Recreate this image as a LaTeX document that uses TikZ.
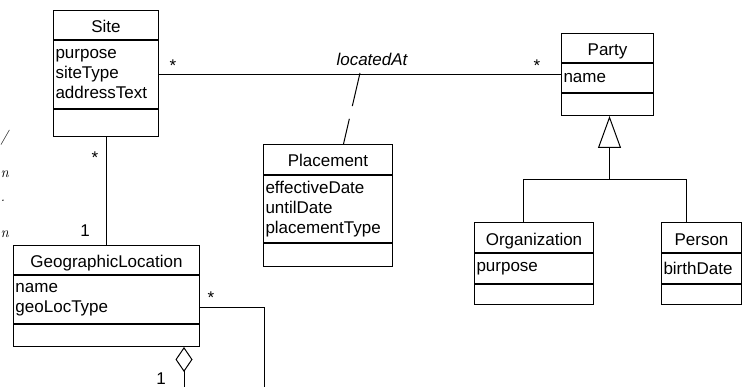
\documentclass[tikz,border=0pt]{standalone}
\usepackage{fontspec}
\newfontfamily\uml{Liberation Sans}
\usetikzlibrary{arrows.meta}
\tikzset{
  cls/.style={draw=black, line width=1pt, inner sep=0pt, anchor=north west,
    font=\uml\fontsize{17}{20}\selectfont},
  hdr/.style={cls, align=center, text height=16pt, text depth=1pt},
  att/.style={cls, align=left, inner xsep=2pt},
  ops/.style={cls},
  conn/.style={draw=black, line width=1pt},
  mult/.style={inner sep=0pt, anchor=base, font=\uml\fontsize{17}{20}\selectfont},
  role/.style={inner sep=0pt, anchor=base, font=\uml\itshape\fontsize{17}{20}\selectfont},
  frag/.style={inner sep=0pt, anchor=base west, font=\itshape\fontsize{15}{20}\selectfont}
}
\begin{document}
\begin{tikzpicture}[x=1pt, y=-1pt]
\useasboundingbox (0,0) rectangle (743,387);
\fill[white] (0,0) rectangle (743,387);

% Site
\node[hdr, minimum width=105pt, minimum height=29pt] (siteH) at (53,10) {Site};
\node[att, minimum width=105pt, text width=101pt, minimum height=68pt] (siteA) at (siteH.south west) {purpose\\siteType\\addressText};
\node[ops, minimum width=105pt, minimum height=27pt] (siteO) at (siteA.south west) {};

% Party
\node[hdr, minimum width=92pt, minimum height=29pt] (partyH) at (561,33) {Party};
\node[att, minimum width=92pt, text width=88pt, minimum height=29pt] (partyA) at (partyH.south west) {name};
\node[ops, minimum width=92pt, minimum height=22pt] (partyO) at (partyA.south west) {};

% Placement
\node[hdr, minimum width=129pt, minimum height=30pt] (plH) at (263,144) {Placement};
\node[att, minimum width=129pt, text width=125pt, minimum height=67pt] (plA) at (plH.south west) {effectiveDate\\untilDate\\placementType};
\node[ops, minimum width=129pt, minimum height=23pt] (plO) at (plA.south west) {};

% Organization
\node[hdr, minimum width=119pt, minimum height=30pt] (orgH) at (474,222) {Organization};
\node[att, minimum width=119pt, text width=115pt, minimum height=30pt] (orgA) at (orgH.south west) {purpose};
\node[ops, minimum width=119pt, minimum height=20pt] (orgO) at (orgA.south west) {};

% Person
\node[hdr, minimum width=80pt, minimum height=30pt] (persH) at (661,222) {Person};
\node[att, minimum width=80pt, text width=76pt, minimum height=30pt] (persA) at (persH.south west) {birthDate};
\node[ops, minimum width=80pt, minimum height=20pt] (persO) at (persA.south west) {};

% GeographicLocation
\node[hdr, minimum width=186pt, minimum height=29pt] (geoH) at (13,245) {GeographicLocation};
\node[att, minimum width=186pt, text width=182pt, minimum height=48pt] (geoA) at (geoH.south west) {name\\geoLocType};
\node[ops, minimum width=186pt, minimum height=22pt] (geoO) at (geoA.south west) {};

% coordinates
\coordinate (la) at (360,73);
\coordinate (pl) at (343.5,144);
\coordinate (gj) at (609.5,180);
\coordinate (oj) at (523,180);
\coordinate (pj) at (686,180);
\coordinate (gbend) at (264,307);
\coordinate (gend) at (264,392);
\coordinate (dend) at (184,392);

% association Site - Party
\draw[conn] (siteA.east) -- (siteA.east -| partyA.west);
\node[mult] (m1) at (173,71.5) {*};
\node[mult] (m2) at (537,71.5) {*};
\node[role] (lab) at (372,66) {locatedAt};
% association class link
\draw[conn, dash pattern=on 34pt off 13pt] (la) -- (pl);

% Site - GeographicLocation
\draw[conn] (siteO.south -| geoH.north) -- (geoH.north);
\node[mult] (m3) at (95,163.5) {*};
\node[mult] (m4) at (85,236) {1};

% GeographicLocation self association
\draw[conn] (geoA.east |- gbend) -- (gbend) -- (gend);
\node[mult] (m5) at (211,303.5) {*};
\draw[conn, {Diamond[open, length=25pt, width=17pt]}-] (geoO.south -| dend) -- (dend);
\node[mult] (m6) at (161,384) {1};

% generalization
\draw[conn, -{Triangle[open, length=32pt, width=23pt]}] (gj) -- (gj |- partyO.south);
\draw[conn] (oj |- orgH.north) -- (oj) -- (pj) -- (pj |- persH.north);

% text fragments at left edge
\node[frag] (f1) at (0.5,142) {/};
\node[frag] (f2) at (0.5,178) {n};
\node[frag] (f3) at (0.5,202) {.};
\node[frag] (f4) at (0.5,237) {n};
\end{tikzpicture}
\end{document}
